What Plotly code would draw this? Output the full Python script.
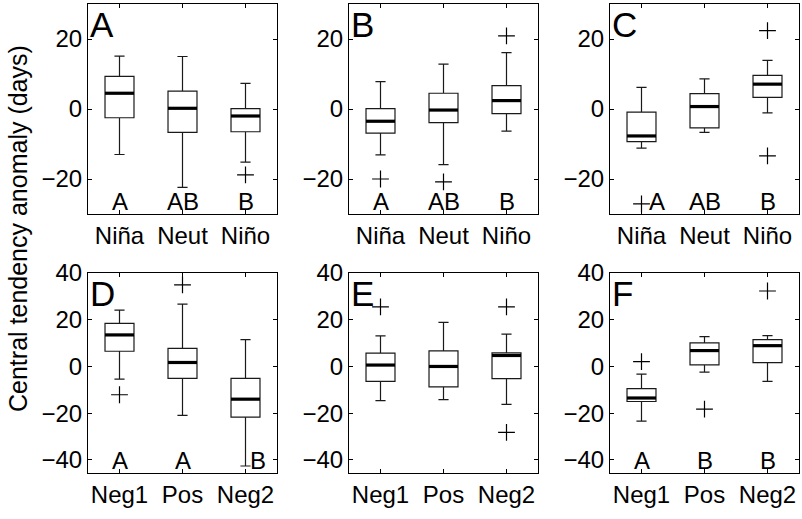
import plotly.graph_objects as go

FONT = "Liberation Sans, Arial, Helvetica, sans-serif"

top_cats = ["Niña", "Neut", "Niño"]
bottom_cats = ["Neg1", "Pos", "Neg2"]
panel_labels = ["A", "B", "C", "D", "E", "F"]

# Panel A
A_lower = [-13.0, -22.4, -15.2]
A_q1 = [-2.5, -6.7, -6.5]
A_med = [4.5, 0.2, -2.0]
A_q3 = [9.3, 5.1, 0.1]
A_upper = [15.1, 15.0, 7.3]
A_out = [[], [], [-18.8]]
A_sig = ["A", "AB", "B"]

# Panel B
B_lower = [-13.1, -15.9, -6.3]
B_q1 = [-6.9, -3.9, -1.3]
B_med = [-3.5, -0.3, 2.4]
B_q3 = [0.1, 4.5, 6.7]
B_upper = [7.8, 12.8, 16.1]
B_out = [[-20.0], [-20.8], [20.9]]
B_sig = ["A", "AB", "B"]

# Panel C
C_lower = [-11.2, -6.7, -1.1]
C_q1 = [-9.3, -5.4, 3.3]
C_med = [-7.7, 0.7, 7.1]
C_q3 = [-0.9, 4.4, 9.6]
C_upper = [6.2, 8.6, 13.9]
C_out = [[-27.1], [], [22.4, -13.4]]
C_sig = ["A", "AB", "B"]

# Panel D
D_lower = [-5.4, -20.9, -42.6]
D_q1 = [6.5, -5.1, -21.7]
D_med = [13.5, 1.7, -14.0]
D_q3 = [18.4, 7.7, -5.1]
D_upper = [24.1, 26.7, 11.5]
D_out = [[-12.1], [34.9], []]
D_sig = ["A", "A", "B"]

# Panel E
E_lower = [-14.6, -14.2, -16.2]
E_q1 = [-6.4, -8.7, -5.2]
E_med = [0.6, 0.0, 4.7]
E_q3 = [5.7, 6.7, 5.8]
E_upper = [13.1, 18.9, 13.8]
E_out = [[25.5], [], [25.5, -28.2]]
E_sig = ["", "", ""]

# Panel F
F_lower = [-23.4, -2.4, -6.4]
F_q1 = [-15.0, 0.7, 1.6]
F_med = [-13.5, 6.8, 8.9]
F_q3 = [-9.5, 10.1, 11.5]
F_upper = [-3.3, 12.8, 13.2]
F_out = [[2.1], [-18.3], [32.3]]
F_sig = ["A", "B", "B"]

top_yticks = [-20, 0, 20]
bottom_yticks = [-40, -20, 0, 20, 40]
top_range = [-30, 30]
bottom_range = [-45.6, 40]

panels = [
    (A_lower, A_q1, A_med, A_q3, A_upper, A_out, A_sig),
    (B_lower, B_q1, B_med, B_q3, B_upper, B_out, B_sig),
    (C_lower, C_q1, C_med, C_q3, C_upper, C_out, C_sig),
    (D_lower, D_q1, D_med, D_q3, D_upper, D_out, D_sig),
    (E_lower, E_q1, E_med, E_q3, E_upper, E_out, E_sig),
    (F_lower, F_q1, F_med, F_q3, F_upper, F_out, F_sig),
]
# pixel shifts for significance letters displaced to avoid outliers
sig_shift = {(2, 0): 15, (3, 2): 12}

W, H = 802, 519
xdoms = [(88, 277), (349, 538), (610, 799)]
ydoms = [(4, 214), (273, 473)]

BOXW = 0.46
fig = go.Figure()
layout = dict(
    width=W, height=H, margin=dict(l=0, r=0, t=0, b=0, autoexpand=False),
    paper_bgcolor="white", plot_bgcolor="white",
    font=dict(family=FONT, color="black", size=24),
    showlegend=False,
)
annotations = []

for p, (lo, q1, med, q3, up, outs, sig) in enumerate(panels):
    n = p + 1
    row, col = divmod(p, 3)
    xa = "x" if n == 1 else f"x{n}"
    ya = "y" if n == 1 else f"y{n}"
    cats = top_cats if row == 0 else bottom_cats
    pos = [1, 2, 3]

    fig.add_trace(go.Box(
        x=pos, q1=q1, median=med, q3=q3, lowerfence=lo, upperfence=up,
        width=BOXW, whiskerwidth=0.35, boxpoints=False,
        line=dict(color="#1a1a1a", width=1.2), fillcolor="rgba(0,0,0,0)",
        xaxis=xa, yaxis=ya, showlegend=False,
    ))
    mx, my = [], []
    for i, m in enumerate(med):
        mx += [pos[i] - BOXW / 2, pos[i] + BOXW / 2, None]
        my += [m, m, None]
    fig.add_trace(go.Scatter(x=mx, y=my, mode="lines",
                             line=dict(color="black", width=3.2),
                             xaxis=xa, yaxis=ya, showlegend=False))
    ox, oy = [], []
    for i, o in enumerate(outs):
        for v in o:
            ox.append(pos[i])
            oy.append(v)
    if ox:
        fig.add_trace(go.Scatter(x=ox, y=oy, mode="markers",
                                 marker=dict(symbol="cross-thin", size=12,
                                             line=dict(color="black", width=1.2)),
                                 xaxis=xa, yaxis=ya, showlegend=False))

    x0, x1 = xdoms[col]
    y0, y1 = ydoms[row]
    axis_common = dict(showline=True, linecolor="black", linewidth=1, mirror="allticks",
                       ticks="inside", ticklen=4, tickcolor="black", showgrid=False,
                       zeroline=False, automargin=False,
                       tickfont=dict(size=24, family=FONT))
    layout["xaxis" if n == 1 else f"xaxis{n}"] = dict(
        domain=[x0 / W, x1 / W], range=[0.5, 3.5], tickvals=pos, ticktext=cats,
        anchor=ya, **axis_common)
    layout["yaxis" if n == 1 else f"yaxis{n}"] = dict(
        domain=[1 - y1 / H, 1 - y0 / H],
        range=top_range if row == 0 else bottom_range,
        tickvals=top_yticks if row == 0 else bottom_yticks,
        anchor=xa, **axis_common)

    annotations.append(dict(text=panel_labels[p], xref=f"{xa} domain", yref=f"{ya} domain",
                            x=0, y=1, xanchor="left", yanchor="top", showarrow=False,
                            font=dict(size=35, family=FONT), xshift=0, yshift=1))
    for i, s in enumerate(sig):
        if s:
            annotations.append(dict(text=s, xref=xa, yref=f"{ya} domain", x=pos[i], y=0,
                                    xanchor="center", yanchor="bottom", showarrow=False,
                                    font=dict(size=24, family=FONT),
                                    xshift=sig_shift.get((p, i), 0), yshift=-3))

annotations.append(dict(text="Central tendency anomaly (days)", xref="paper", yref="paper",
                        x=18 / W, y=1 - 229 / H, textangle=-90, showarrow=False,
                        xanchor="center", yanchor="middle", font=dict(size=25, family=FONT)))
layout["annotations"] = annotations
fig.update_layout(**layout)
fig.write_html("out.html", config={"displayModeBar": False},
               post_script="document.body.style.margin='0';document.body.style.padding='0';")
